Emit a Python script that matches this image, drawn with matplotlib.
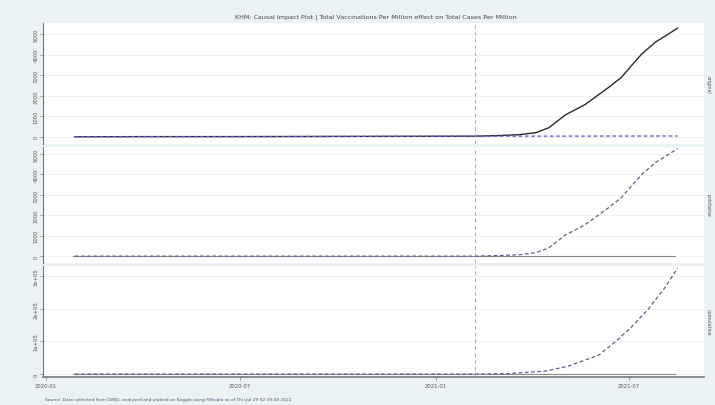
import matplotlib
matplotlib.use("Agg")
import matplotlib.pyplot as plt
import matplotlib.dates as mdates
import numpy as np
import pandas as pd

# --- data (cases per million, KHM) ---
obs_dates = ["2020-01-28", "2020-04-01", "2020-07-01", "2020-10-01", "2021-01-01",
             "2021-02-07", "2021-03-01", "2021-03-20", "2021-04-05", "2021-04-17",
             "2021-05-03", "2021-05-12", "2021-05-21", "2021-06-03", "2021-06-12",
             "2021-06-24", "2021-07-03", "2021-07-13", "2021-07-26", "2021-08-04",
             "2021-08-16"]
observed = [0, 6, 8, 17, 25, 30, 60, 100, 200, 440, 1080, 1320, 1570, 2060, 2400,
            2890, 3430, 4020, 4610, 4900, 5300]
predicted = [0, 6, 8, 17, 25, 30, 30, 31, 31, 32, 32, 33, 33, 34, 34,
             35, 35, 36, 36, 37, 37]

cum_dates = ["2020-01-28", "2021-02-07", "2021-03-10", "2021-04-14", "2021-05-05",
             "2021-06-03", "2021-06-19", "2021-07-03", "2021-07-19", "2021-08-04",
             "2021-08-16"]
cumulative = [0, 0, 1500, 9000, 24000, 58000, 100000, 142000, 197000, 264000, 324000]

intervention = "2021-02-07"
panel_labels = ["original", "pointwise", "cumulative"]
title = "KHM: Causal Impact Plot | Total Vaccinations Per Million effect on Total Cases Per Million"
footer = ("Source: Data collected from OWID, analysed and plotted on Kaggle using RStudio "
          "as of Thu Jul 29 02:39:08 2021")

BG = "#eaf2f3"
DASH_BLUE = "#5b5bc8"
DASH_GREY = "#5e5e8c"

obs_x = pd.to_datetime(obs_dates)
cum_x = pd.to_datetime(cum_dates)
pointwise = np.array(observed) - np.array(predicted)
t0 = pd.Timestamp(intervention)

fig = plt.figure(figsize=(7.15, 4.06), dpi=100, facecolor=BG)

left, width = 0.060, 0.925
ax1 = fig.add_axes([left, 0.643, width, 0.298])
ax2 = fig.add_axes([left, 0.350, width, 0.286])
ax3 = fig.add_axes([left, 0.069, width, 0.273])
axes = [ax1, ax2, ax3]

ax1.plot(obs_x, observed, color="#2a2a2a", lw=1.0)
ax1.plot(obs_x, predicted, color=DASH_BLUE, lw=0.9, ls=(0, (3, 2)))

ax2.axhline(0, color="#888888", lw=0.8, xmin=0.045, xmax=0.955)
ax2.plot(obs_x, pointwise, color=DASH_GREY, lw=0.9, ls=(0, (3, 2)))

ax3.axhline(0, color="#888888", lw=0.8, xmin=0.045, xmax=0.955)
ax3.plot(cum_x, cumulative, color=DASH_GREY, lw=0.9, ls=(0, (3, 2)))

ax1.set_ylim(-350, 5550)
ax2.set_ylim(-330, 5350)
ax3.set_ylim(-9000, 330000)
ax1.set_yticks(range(0, 6000, 1000))
ax2.set_yticks(range(0, 6000, 1000))
ax3.set_yticks([0, 100000, 200000, 300000])
ax3.set_yticklabels(["0", "1e+05", "2e+05", "3e+05"])

xmin, xmax = pd.Timestamp("2019-12-29"), pd.Timestamp("2021-09-10")
for ax, lab in zip(axes, panel_labels):
    ax.set_facecolor("white")
    ax.set_xlim(xmin, xmax)
    ax.axvline(t0, color="#aaaaaa", lw=0.7, ls=(0, (4, 3)))
    ax.grid(axis="y", color="#eeeeee", lw=0.6)
    ax.set_axisbelow(True)
    for s in ["top", "right", "bottom"]:
        ax.spines[s].set_visible(False)
    ax.spines["left"].set_color("#777777")
    ax.spines["left"].set_linewidth(0.8)
    ax.tick_params(axis="y", labelsize=3.8, labelcolor="#555555", color="#777777",
                   length=2, width=0.5, pad=1, labelrotation=90)
    for t in ax.get_yticklabels():
        t.set_va("center")
    ax.tick_params(axis="x", bottom=False, labelbottom=False)
    ax.text(1.002, 0.5, lab, transform=ax.transAxes, rotation=270, fontsize=3.4,
            color="#555555", va="center", ha="left", clip_on=False)

ax3.spines["bottom"].set_visible(True)
ax3.spines["bottom"].set_color("#888888")
ax3.spines["bottom"].set_linewidth(1.4)
ax3.xaxis.set_major_locator(mdates.MonthLocator(bymonth=[1, 7]))
ax3.xaxis.set_major_formatter(mdates.DateFormatter("%Y-%m"))
ax3.tick_params(axis="x", bottom=True, labelbottom=True, labelsize=3.8,
                labelcolor="#555555", color="#777777", length=2, width=0.5, pad=2)

fig.text(0.526, 0.958, title, ha="center", va="center", fontsize=4.6, color="#444444")
fig.text(0.063, 0.016, footer, ha="left", va="center", fontsize=3.2, color="#555577")

fig.savefig("out.png", dpi=100, facecolor=BG)
